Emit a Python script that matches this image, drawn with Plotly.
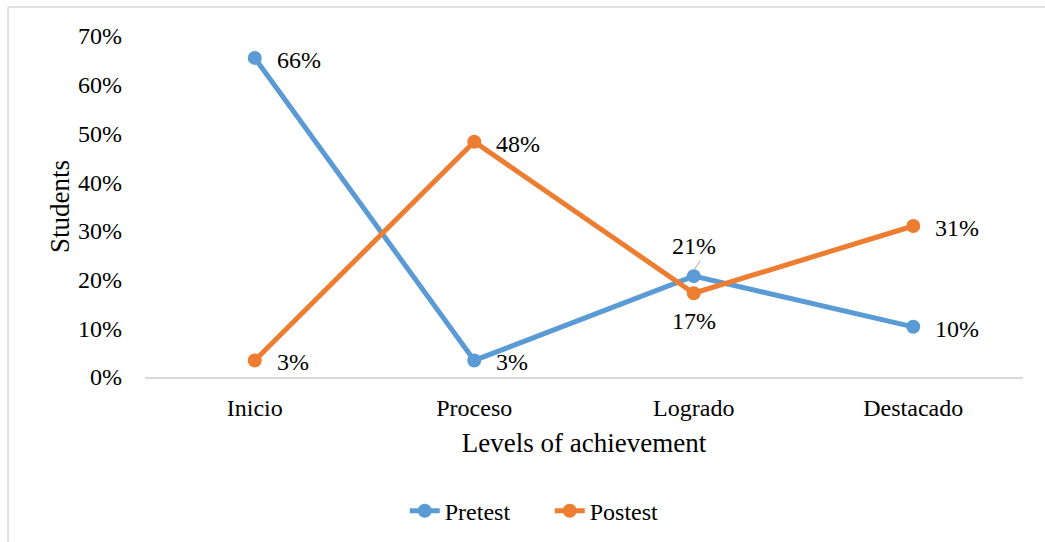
import plotly.graph_objects as go

categories = ["Inicio", "Proceso", "Logrado", "Destacado"]
pretest = [0.655, 0.034, 0.207, 0.103]
postest = [0.034, 0.483, 0.172, 0.310]
pre_labels = ["66%", "3%", "21%", "10%"]
post_labels = ["3%", "48%", "17%", "31%"]
y_ticks = [0, 0.1, 0.2, 0.3, 0.4, 0.5, 0.6, 0.7]

BLUE = "#5B9BD5"
ORANGE = "#ED7D31"
FONT = "Liberation Serif, Times New Roman, serif"

fig = go.Figure()
fig.add_trace(go.Scatter(x=categories, y=pretest, mode="lines+markers", name="Pretest",
                         line=dict(color=BLUE, width=5), marker=dict(size=14, color=BLUE)))
fig.add_trace(go.Scatter(x=categories, y=postest, mode="lines+markers", name="Postest",
                         line=dict(color=ORANGE, width=5), marker=dict(size=14, color=ORANGE)))

annotations = []
# label placement: (xanchor, xshift, yshift)
pre_pos = [("left", 20, -2), ("left", 20, -2), ("center", 0, 30), ("left", 20, -2)]
post_pos = [("left", 20, -2), ("left", 20, -2), ("center", 0, -28), ("left", 20, -2)]
for i, c in enumerate(categories):
    xa, xs, ys = pre_pos[i]
    annotations.append(dict(x=c, y=pretest[i], text=pre_labels[i], showarrow=False,
                            xanchor=xa, yanchor="middle", xshift=xs, yshift=ys,
                            font=dict(family=FONT, size=24, color="#000")))
    xa, xs, ys = post_pos[i]
    annotations.append(dict(x=c, y=postest[i], text=post_labels[i], showarrow=False,
                            xanchor=xa, yanchor="middle", xshift=xs, yshift=ys,
                            font=dict(family=FONT, size=24, color="#000")))

fig.update_layout(
    width=1045, height=542,
    margin=dict(l=145, r=22, t=36, b=165, autoexpand=False),
    paper_bgcolor="white", plot_bgcolor="white",
    font=dict(family=FONT, size=24, color="#000"),
    showlegend=True,
    legend=dict(orientation="h", x=0.461, xanchor="center", y=0.057, yref="container",
                yanchor="middle",
                font=dict(family=FONT, size=24), tracegroupgap=0, entrywidth=100,
                entrywidthmode="pixels"),
    annotations=annotations,
    shapes=[
        dict(type="line", xref="paper", yref="paper", x0=-0.156, x1=-0.156, y0=-0.6, y1=1.085,
             line=dict(color="#D9D9D9", width=1.5)),
        dict(type="line", xref="paper", yref="paper", x0=-0.156, x1=1.2, y0=1.085, y1=1.085,
             line=dict(color="#D9D9D9", width=1.5)),
        # pretest Logrado leader line
        dict(type="line", xref="x", yref="y", x0=2.0, x1=2.03, y0=pretest[2] + 0.012, y1=pretest[2] + 0.032,
             line=dict(color="#A6A6A6", width=1)),
    ],
)
fig.update_xaxes(range=[-0.5, 3.5], showgrid=False, showline=True, linecolor="#D9D9D9", linewidth=1.5,
                 ticks="", tickfont=dict(family=FONT, size=24), ticklabelstandoff=8, automargin=False,
                 title=dict(text="Levels of achievement", font=dict(family=FONT, size=27), standoff=14),
                 zeroline=False)
fig.update_yaxes(range=[0, 0.7], tickvals=y_ticks, tickformat=".0%", showgrid=False, showline=False,
                 zeroline=False, ticks="", tickfont=dict(family=FONT, size=24), ticklabelstandoff=22,
                 automargin=False,
                 title=dict(text="Students", font=dict(family=FONT, size=27), standoff=0))

fig.write_html("out.html")
